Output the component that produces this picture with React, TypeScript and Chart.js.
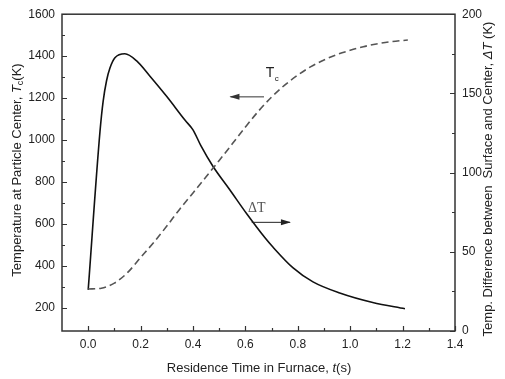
import React, { useEffect, useRef } from "react";
import { Chart, registerables } from "chart.js";

Chart.register(...registerables);

// ---- data ----
const timeTc = [0, 0.05, 0.1, 0.15, 0.2, 0.25, 0.3, 0.35, 0.4, 0.45, 0.5, 0.55, 0.6, 0.65, 0.7, 0.75, 0.8, 0.85, 0.9, 0.95, 1.0, 1.05, 1.1, 1.15, 1.22];
const centerTemp = [290, 294, 318, 368, 440, 512, 590, 672, 748, 825, 903, 982, 1062, 1138, 1205, 1262, 1310, 1350, 1382, 1408, 1428, 1445, 1458, 1468, 1477];

const timeDT = [0, 0.045, 0.057, 0.07, 0.083, 0.102, 0.14, 0.185, 0.235, 0.3, 0.37, 0.4, 0.43, 0.476, 0.541, 0.605, 0.674, 0.705, 0.781, 0.858, 0.96, 1.086, 1.209];
const tempDiff = [26, 126, 145, 158, 166, 172.5, 175, 170.5, 161, 148, 133, 127, 117, 104, 89, 74, 59, 53, 40, 31, 24, 18, 14];

const xTicks = [0, 0.2, 0.4, 0.6, 0.8, 1.0, 1.2, 1.4];
const xMinorTicks = [0.1, 0.3, 0.5, 0.7, 0.9, 1.1, 1.3];
const leftTicks = [200, 400, 600, 800, 1000, 1200, 1400, 1600];
const leftMinorTicks = [300, 500, 700, 900, 1100, 1300, 1500];
const rightTicks = [0, 50, 100, 150, 200];
const rightMinorTicks = [25, 75, 125, 175];

// annotation anchors (data units)
const tcLabelAt = { x: 0.678, y: 1300 };
const tcArrow = { x0: 0.671, x1: 0.543, y: 1206 };
const dtLabelAt = { x: 0.61, y: 75 };
const dtArrow = { x0: 0.624, x1: 0.77, y: 68.6 };

const SANS = "'Liberation Sans', Arial, sans-serif";
const SERIF = "'Liberation Serif', 'Times New Roman', serif";
const TXT = "#222";

type Part = { t: string; font: string; dy?: number };

function drawRich(ctx: CanvasRenderingContext2D, parts: Part[], cx: number, cy: number, rot: number) {
  ctx.save();
  ctx.translate(cx, cy);
  ctx.rotate(rot);
  let w = 0;
  const widths = parts.map((p) => {
    ctx.font = p.font;
    const m = ctx.measureText(p.t).width;
    w += m;
    return m;
  });
  let x = -w / 2;
  ctx.textBaseline = "middle";
  ctx.textAlign = "left";
  ctx.fillStyle = TXT;
  parts.forEach((p, i) => {
    ctx.font = p.font;
    ctx.fillText(p.t, x, p.dy || 0);
    x += widths[i];
  });
  ctx.restore();
}

function arrow(ctx: CanvasRenderingContext2D, x0: number, x1: number, y: number) {
  ctx.beginPath();
  ctx.moveTo(x0, y);
  ctx.lineTo(x1, y);
  ctx.stroke();
  const dir = x1 > x0 ? 1 : -1;
  ctx.beginPath();
  ctx.moveTo(x1 + dir * 1, y);
  ctx.lineTo(x1 - dir * 9, y - 3);
  ctx.lineTo(x1 - dir * 9, y + 3);
  ctx.closePath();
  ctx.fill();
}

const decor = {
  id: "decor",
  afterDraw(chart: any) {
    const { ctx, chartArea: a, scales } = chart;
    const sx = scales.x, yl = scales.y, yr = scales.y1;
    ctx.save();
    // frame
    ctx.strokeStyle = "#333";
    ctx.lineWidth = 1.5;
    ctx.strokeRect(a.left, a.top, a.right - a.left, a.bottom - a.top);
    // inward ticks
    ctx.lineWidth = 1.2;
    ctx.beginPath();
    const tick = (vals: number[], len: number, kind: string) => {
      vals.forEach((v) => {
        if (kind === "x") {
          const p = Math.round(sx.getPixelForValue(v)) + 0.5;
          ctx.moveTo(p, a.bottom);
          ctx.lineTo(p, a.bottom - len);
        } else if (kind === "l") {
          const p = Math.round(yl.getPixelForValue(v)) + 0.5;
          ctx.moveTo(a.left, p);
          ctx.lineTo(a.left + len, p);
        } else {
          const p = Math.round(yr.getPixelForValue(v)) + 0.5;
          ctx.moveTo(a.right, p);
          ctx.lineTo(a.right - len, p);
        }
      });
    };
    tick(xTicks, 5, "x");
    tick(xMinorTicks, 3, "x");
    tick(leftTicks, 5, "l");
    tick(leftMinorTicks, 3, "l");
    tick(rightTicks, 5, "r");
    tick(rightMinorTicks, 3, "r");
    ctx.stroke();

    // axis titles
    drawRich(
      ctx,
      [
        { t: "Temperature at Particle Center, ", font: `13px ${SANS}` },
        { t: "T", font: `italic 13px ${SANS}` },
        { t: "c", font: `9px ${SANS}`, dy: 4 },
        { t: "(K)", font: `13px ${SANS}` },
      ],
      17,
      170,
      -Math.PI / 2
    );
    drawRich(
      ctx,
      [
        { t: "Temp. Difference between  Surface and Center, ", font: `13px ${SANS}` },
        { t: "\u0394T", font: `italic 13px ${SANS}` },
        { t: " (K)", font: `13px ${SANS}` },
      ],
      488,
      179,
      -Math.PI / 2
    );
    drawRich(
      ctx,
      [
        { t: "Residence Time in Furnace, ", font: `13px ${SANS}` },
        { t: "t", font: `italic 13px ${SANS}` },
        { t: "(s)", font: `13px ${SANS}` },
      ],
      259,
      368,
      0
    );

    // annotations
    ctx.fillStyle = "#222";
    ctx.textBaseline = "alphabetic";
    ctx.textAlign = "left";
    const tx = sx.getPixelForValue(tcLabelAt.x);
    const ty = yl.getPixelForValue(tcLabelAt.y);
    ctx.font = `14px ${SANS}`;
    ctx.fillText("T", tx, ty);
    ctx.font = `8px ${SANS}`;
    ctx.fillText("c", tx + 9, ty + 4);

    ctx.strokeStyle = "#333";
    ctx.fillStyle = "#333";
    ctx.lineWidth = 1;
    arrow(ctx, sx.getPixelForValue(tcArrow.x0), sx.getPixelForValue(tcArrow.x1), yl.getPixelForValue(tcArrow.y));

    ctx.fillStyle = "#555";
    ctx.font = `14px ${SERIF}`;
    ctx.fillText("\u0394T", sx.getPixelForValue(dtLabelAt.x), yr.getPixelForValue(dtLabelAt.y));
    ctx.fillStyle = "#222";
    ctx.strokeStyle = "#222";
    arrow(ctx, sx.getPixelForValue(dtArrow.x0), sx.getPixelForValue(dtArrow.x1), yr.getPixelForValue(dtArrow.y));
    ctx.restore();
  },
};

export default function App() {
  const ref = useRef<HTMLCanvasElement>(null);
  useEffect(() => {
    document.body.style.margin = "0";
    const canvas = ref.current!;
    const tickFont = { family: SANS, size: 12 };
    const chart = new Chart(canvas, {
      type: "line",
      data: {
        datasets: [
          {
            label: "Tc",
            data: timeTc.map((t, i) => ({ x: t, y: centerTemp[i] })),
            yAxisID: "y",
            borderColor: "#555",
            borderWidth: 1.6,
            borderDash: [7, 4],
            pointRadius: 0,
            cubicInterpolationMode: "monotone",
            fill: false,
          },
          {
            label: "dT",
            data: timeDT.map((t, i) => ({ x: t, y: tempDiff[i] })),
            yAxisID: "y1",
            borderColor: "#111",
            borderWidth: 1.6,
            pointRadius: 0,
            cubicInterpolationMode: "monotone",
            fill: false,
          },
        ],
      },
      options: {
        responsive: false,
        animation: false,
        layout: { padding: { top: 13, left: 0, right: 0, bottom: 0 } },
        plugins: { legend: { display: false }, tooltip: { enabled: false } },
        scales: {
          x: {
            type: "linear",
            min: -0.1,
            max: 1.4,
            afterBuildTicks: (s: any) => {
              s.ticks = xTicks.map((v) => ({ value: v }));
            },
            afterFit: (s: any) => {
              s.height = 48;
            },
            grid: { display: false, drawTicks: false },
            border: { display: false },
            ticks: {
              padding: 6,
              font: tickFont,
              color: TXT,
              maxRotation: 0,
              autoSkip: false,
              callback: (v: any) => Number(v).toFixed(1),
            },
          },
          y: {
            type: "linear",
            position: "left",
            min: 90,
            max: 1600,
            afterBuildTicks: (s: any) => {
              s.ticks = leftTicks.map((v) => ({ value: v }));
            },
            afterFit: (s: any) => {
              s.width = 62;
            },
            grid: { display: false, drawTicks: false },
            border: { display: false },
            ticks: { padding: 7, font: tickFont, color: TXT, autoSkip: false, callback: (v: any) => String(v) },
          },
          y1: {
            type: "linear",
            position: "right",
            min: 0,
            max: 200,
            afterBuildTicks: (s: any) => {
              s.ticks = rightTicks.map((v) => ({ value: v }));
            },
            afterFit: (s: any) => {
              s.width = 50;
            },
            grid: { display: false, drawTicks: false },
            border: { display: false },
            ticks: { padding: 7, font: tickFont, color: TXT, autoSkip: false, callback: (v: any) => String(v) },
          },
        },
      } as any,
      plugins: [decor],
    });
    return () => chart.destroy();
  }, []);
  return (
    <div style={{ width: 505, height: 379 }}>
      <canvas ref={ref} width={505} height={379} style={{ display: "block" }} />
    </div>
  );
}
